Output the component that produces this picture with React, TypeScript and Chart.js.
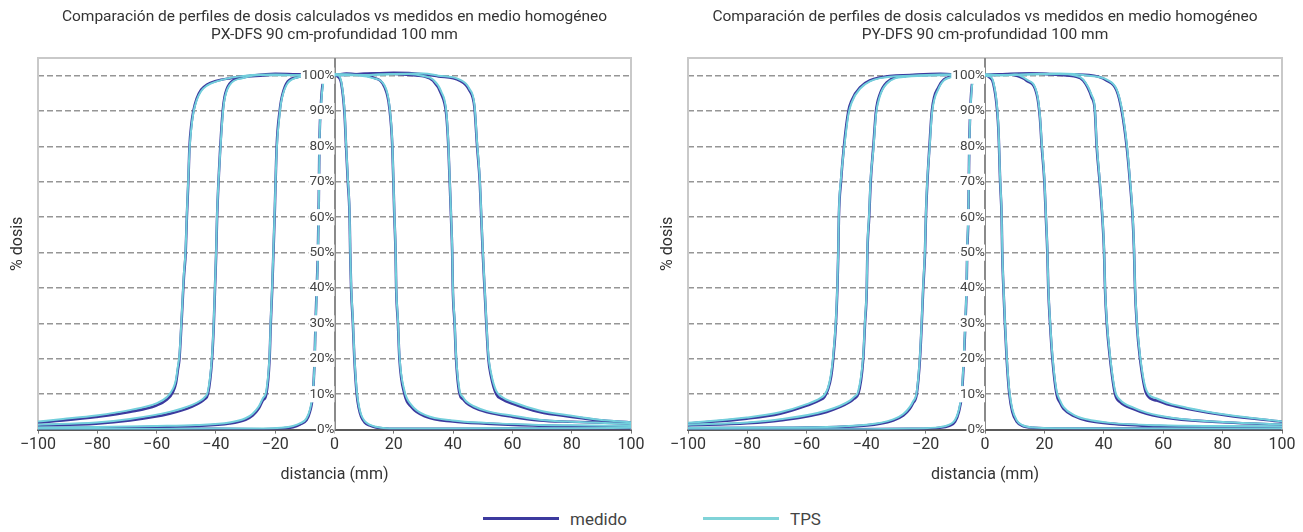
import React, { useEffect, useRef } from "react";
import { Chart, registerables } from "chart.js";

Chart.register(...registerables);

const FONT = "Roboto, 'Liberation Sans', sans-serif";

const SERIES_NAMES = ["medido", "TPS"];
const MED_COLOR = "#3c3a9e";
const TPS_COLOR = "#72cfdc";

const X_TICKS = [-100, -80, -60, -40, -20, 0, 20, 40, 60, 80, 100];
const Y_TICKS = [0, 10, 20, 30, 40, 50, 60, 70, 80, 90, 100];

const TITLE_PX = [
  "Comparación de perfiles de dosis calculados vs medidos en medio homogéneo",
  "PX-DFS 90 cm-profundidad 100 mm",
];
const TITLE_PY = [
  "Comparación de perfiles de dosis calculados vs medidos en medio homogéneo",
  "PY-DFS 90 cm-profundidad 100 mm",
];
const X_TITLE = "distancia (mm)";
const Y_TITLE = "% dosis";

// ---------- PX panel ----------
const PX_X_10 = [-100, -80, -60, -40, -24, -18, -14, -11.5, -9.5, -8.3, -7.3, -6.7, -6.4, -6.0, -5.6, -5.3, -5.1, -4.5, -3.4, -2, 0, 1, 2.3, 3.4, 3.9, 4.5, 5.1, 5.3, 5.6, 6.2, 6.7, 7.5, 8.2, 9, 10.2, 11.8, 14, 17.4, 24, 40, 60, 80, 100];
const PX_MED_10 = [0.3, 0.3, 0.2, 0.2, 0.1, 0.3, 0.7, 1.5, 2.6, 5, 10, 20, 30, 40, 50, 65, 80, 93, 99.5, 100, 100.2, 99.8, 97.7, 89, 80, 70, 60, 50, 40, 30, 20, 10, 6, 3.6, 2, 1.2, 0.6, 0.3, 0.2, 0.2, 0.3, 0.3, 0.3];
const PX_TPS_10 = [0.2, 0.2, 0.2, 0.3, 0.3, 0.5, 1.0, 1.8, 3.1, 5.6, 10.5, 19, 29, 39, 49, 63, 79, 92, 99, 99.8, 100, 100.1, 98.2, 90, 81, 71, 61, 51, 41, 31, 21, 11, 6.8, 4.2, 2.4, 1.4, 0.8, 0.4, 0.3, 0.3, 0.4, 0.4, 0.5];

const PX_X_40 = [-100, -80, -60, -46.6, -35.4, -30, -27.6, -25.5, -24.2, -23.0, -21.9, -21.5, -21.0, -20.6, -20.2, -19.5, -18.5, -18, -16.3, -12.9, -8, -4, 0, 4, 8, 12.9, 16.9, 18.5, 19.5, 20.2, 20.6, 20.8, 21.4, 21.9, 23.6, 25.9, 30.9, 39.9, 51.2, 66.9, 80, 100];
const PX_MED_40 = [0.5, 0.5, 0.8, 1.0, 1.7, 2.8, 4.0, 6.0, 8.2, 10, 20, 30, 40, 50, 60, 80, 90, 93, 97.7, 99.5, 100.2, 100.3, 100.2, 100.6, 100.3, 99.5, 96.7, 91, 80, 60, 50, 40, 30, 20, 10, 6.4, 3.6, 2.3, 1.7, 1.2, 1.0, 0.8];
const PX_TPS_40 = [0.6, 0.7, 1.0, 1.3, 2.0, 3.2, 4.5, 6.6, 8.8, 11, 21, 31, 41, 51, 61, 79, 89, 92.5, 97.2, 99.4, 100, 100.2, 100.4, 100.3, 100.1, 99.3, 97.2, 91.8, 81, 61, 51, 41, 31, 21, 11, 7.0, 4.0, 2.6, 1.9, 1.4, 1.2, 1.0];

const PX_X_80 = [-100, -80.4, -69, -55.6, -48, -45, -43.8, -42.7, -41.3, -40.7, -40.3, -39.9, -39.6, -38.5, -37.7, -37.1, -35.4, -30.9, -25, -15, -5, 5, 15, 25, 30, 33.2, 36, 37.7, 38.4, 39.3, 39.7, 39.9, 40.5, 41.0, 42.2, 43.3, 44.4, 47, 51.2, 60.1, 69.1, 80, 100];
const PX_MED_80 = [1.2, 1.7, 2.6, 4.5, 6.5, 7.8, 8.6, 10, 20, 30, 40, 50, 60, 80, 90, 93.9, 97.7, 99.5, 100, 100.4, 100.2, 100.3, 100.7, 100.2, 99.8, 98.6, 94.8, 89, 80, 60, 50, 40, 30, 20, 10, 8.6, 7.6, 6.2, 5, 3.6, 2.6, 2.2, 1.7];
const PX_TPS_80 = [1.4, 2.0, 3.0, 5.0, 7.0, 8.3, 9.2, 10.8, 21, 31, 41, 51, 61, 79, 89, 93.2, 97.3, 99.3, 100.2, 100.1, 100.4, 100.1, 100.3, 100.5, 99.9, 98.9, 95.5, 90, 81, 61, 51, 41, 31, 21, 11, 9.2, 8.0, 6.6, 5.3, 3.9, 2.8, 2.2, 1.6];

const PX_X_100 = [-100, -91.6, -80.4, -69.1, -60.1, -56.5, -54.5, -53.5, -52.8, -52.3, -51.8, -51.3, -50.8, -50.2, -49.8, -49.3, -48.9, -48.3, -47.6, -46.5, -45, -43, -40, -35, -30, -20, -10, 0, 10, 20, 30, 35, 42.2, 45.5, 47.2, 48.1, 49.0, 49.5, 50.0, 50.6, 51.2, 51.9, 52.8, 54.5, 56.5, 60.1, 69.1, 80, 89.4, 100];
const PX_MED_100 = [2, 2.6, 3.6, 5, 6.8, 8.5, 10.6, 13, 17, 20, 27, 35, 43, 50, 60, 70, 80, 86, 90, 93.5, 96, 97.5, 98.5, 99.3, 99.8, 100.5, 100.3, 100.2, 100.5, 100.8, 100.4, 99.8, 98.6, 95.8, 91, 80, 70, 60, 50, 40, 30, 20, 15, 10.1, 8.6, 7.3, 5, 3.6, 2.6, 2];
const PX_TPS_100 = [2.3, 3.0, 4.0, 5.5, 7.4, 9.2, 11.5, 14, 18, 21, 28, 36, 44, 51, 61, 71, 79, 85, 89.5, 93, 95.6, 97.2, 98.3, 99.4, 100, 100.3, 100.1, 100.4, 100.2, 100.5, 100.6, 100, 98.9, 96.3, 91.8, 81, 71, 61, 51, 41, 31, 21, 16, 11, 9.2, 7.8, 5.4, 3.9, 2.8, 2.1];

// ---------- PY panel ----------
const PY_X_10 = [-100, -46.6, -25, -15.2, -12, -10.1, -8.8, -7.8, -7.1, -6.6, -6.2, -6.0, -5.6, -5.3, -4.8, -3.9, -2, 0, 1.5, 2.8, 4.5, 5.1, 5.6, 5.8, 6.2, 6.7, 7.3, 8.2, 9.2, 10.7, 12.5, 16.3, 25, 50, 100];
const PY_MED_10 = [0.2, 0.1, 0.2, 0.5, 1.1, 2.2, 5, 10, 20, 30, 40, 50, 60, 80, 93, 99.5, 100, 100.2, 99.5, 97.7, 85, 70, 60, 50, 40, 30, 20, 10, 5, 2.2, 1.1, 0.5, 0.3, 0.3, 0.4];
const PY_TPS_10 = [0.1, 0.1, 0.3, 0.7, 1.4, 2.7, 5.6, 10.8, 21, 31, 41, 51, 61, 79, 92, 99, 99.8, 100, 99.8, 98.2, 86, 71, 61, 51, 41, 31, 21, 11, 5.8, 2.6, 1.3, 0.6, 0.4, 0.3, 0.3];

const PY_X_40 = [-100, -69, -39.8, -30.9, -27.5, -25.3, -24.2, -23, -21.9, -21.3, -20.8, -20.2, -19.9, -19.4, -18.7, -17.9, -15.7, -11.8, -6, 0, 6, 10, 14, 17.4, 18.5, 19.1, 20, 20.5, 21, 21.3, 21.9, 22.7, 24.1, 25.3, 26.4, 30, 34.2, 42.1, 58.9, 80, 100];
const PY_MED_40 = [0.4, 0.5, 1.2, 2.6, 4, 5.9, 7.5, 10, 20, 30, 40, 50, 60, 70, 80, 90, 96.7, 99.7, 100.2, 100, 100.4, 100.1, 98.6, 94.8, 88, 80, 70, 60, 50, 40, 30, 20, 10, 7.5, 5.9, 3.8, 2.6, 1.7, 1, 0.8, 0.7];
const PY_TPS_40 = [0.5, 0.6, 1.4, 2.9, 4.4, 6.4, 8.0, 10.6, 21, 31, 41, 51, 61, 71, 79, 89, 96.2, 99.5, 100, 100.3, 100.1, 100.3, 98.9, 95.3, 88.8, 81, 71, 61, 51, 41, 31, 21, 11, 8.2, 6.4, 4.1, 2.9, 1.9, 1.2, 1.0, 0.9];

const PY_X_80 = [-100, -80, -69, -53.3, -45.5, -44, -42.7, -41, -40.4, -39.8, -39.6, -39, -38.5, -37.6, -36.7, -35.4, -33.1, -26.4, -15, -5, 5, 15, 25, 30, 33.1, 35.9, 37, 37.6, 38.6, 39.5, 40.1, 40.4, 41, 42.1, 43.8, 45.5, 50, 54.4, 63.4, 81.4, 100];
const PY_MED_80 = [1.2, 1.8, 2.6, 5, 7.8, 8.8, 10, 20, 30, 40, 50, 60, 70, 80, 90, 94.8, 98.1, 100, 100.3, 100.1, 100.4, 100.6, 100.2, 99.8, 98.6, 93.9, 90, 80, 70, 60, 50, 40, 30, 20, 10, 7.8, 5.8, 4.5, 3.1, 2, 1.4];
const PY_TPS_80 = [1.4, 2.0, 2.9, 5.4, 8.2, 9.3, 10.8, 21, 31, 41, 51, 61, 71, 79, 89, 94.2, 97.7, 99.7, 100.1, 100.4, 100.2, 100.3, 100.5, 100.1, 98.9, 94.5, 90.8, 81, 71, 61, 51, 41, 31, 21, 11, 8.4, 6.2, 4.8, 3.3, 2.1, 1.5];

const PY_X_100 = [-100, -80.2, -69, -60, -55.6, -54, -52.8, -51.8, -51.1, -50.2, -49.7, -49.4, -49.2, -48.5, -47.5, -46, -44.9, -42.1, -35.4, -25, -15, -5, 5, 15, 25, 35, 41, 44.3, 46, 47.7, 48.8, 49.7, 50.2, 50.5, 51.1, 52.2, 54.4, 57.8, 62, 67.9, 81.4, 100];
const PY_MED_100 = [1.7, 3.1, 4.5, 6.8, 8.3, 9.3, 11.5, 15, 20, 30, 40, 50, 60, 70, 80, 90, 93, 96.7, 99.5, 100.2, 100.5, 100.1, 100.3, 100.6, 100.4, 100.2, 98.6, 95.8, 90.2, 80, 70, 60, 50, 40, 30, 20, 10, 8.2, 7, 5.9, 4, 2.2];
const PY_TPS_100 = [1.9, 3.4, 4.9, 7.2, 8.8, 9.9, 12, 16, 21, 31, 41, 51, 61, 71, 79, 89, 92.4, 96.3, 99.3, 100, 100.3, 100.4, 100.1, 100.4, 100.6, 100, 98.9, 96.2, 91, 81, 71, 61, 51, 41, 31, 21, 11, 8.8, 7.4, 6.2, 4.2, 2.3];

type Field = { x: number[]; med: number[]; tps: number[] };

const PX_FIELDS: Field[] = [
  { x: PX_X_10, med: PX_MED_10, tps: PX_TPS_10 },
  { x: PX_X_40, med: PX_MED_40, tps: PX_TPS_40 },
  { x: PX_X_80, med: PX_MED_80, tps: PX_TPS_80 },
  { x: PX_X_100, med: PX_MED_100, tps: PX_TPS_100 },
];
const PY_FIELDS: Field[] = [
  { x: PY_X_10, med: PY_MED_10, tps: PY_TPS_10 },
  { x: PY_X_40, med: PY_MED_40, tps: PY_TPS_40 },
  { x: PY_X_80, med: PY_MED_80, tps: PY_TPS_80 },
  { x: PY_X_100, med: PY_MED_100, tps: PY_TPS_100 },
];

function buildDatasets(fields: Field[]) {
  const ds: any[] = [];
  fields.forEach((f) => {
    ds.push({
      label: SERIES_NAMES[0],
      data: f.x.map((v, i) => ({ x: v, y: f.med[i] })),
      borderColor: MED_COLOR,
      borderWidth: 2.6,
      showLine: true,
      pointRadius: 0,
      cubicInterpolationMode: "monotone",
      order: 2,
    });
    ds.push({
      label: SERIES_NAMES[1],
      data: f.x.map((v, i) => ({ x: v, y: f.tps[i] })),
      borderColor: TPS_COLOR,
      borderWidth: 2,
      showLine: true,
      pointRadius: 0,
      cubicInterpolationMode: "monotone",
      order: 1,
    });
  });
  return ds;
}

// Light frame around the plot area plus the solid vertical axis line at x = 0.
const framePlugin = {
  id: "frame",
  beforeDatasetsDraw(chart: any) {
    const { ctx, chartArea } = chart;
    ctx.save();
    ctx.setLineDash([]);
    ctx.strokeStyle = "#c9c9c9";
    ctx.lineWidth = 2;
    ctx.beginPath();
    ctx.moveTo(chartArea.left, chartArea.bottom);
    ctx.lineTo(chartArea.left, chartArea.top);
    ctx.lineTo(chartArea.right, chartArea.top);
    ctx.lineTo(chartArea.right, chartArea.bottom);
    ctx.stroke();
    const x0 = Math.round(chart.scales.x.getPixelForValue(0));
    ctx.strokeStyle = "#8a8a8a";
    ctx.lineWidth = 2;
    ctx.beginPath();
    ctx.moveTo(x0, chartArea.top);
    ctx.lineTo(x0, chartArea.bottom);
    ctx.stroke();
    ctx.restore();
  },
};

function fmtX(v: number) {
  return v < 0 ? "\u2212" + Math.abs(v) : String(v);
}

function makeConfig(fields: Field[], title: string[], rightPad: number): any {
  return {
    type: "scatter",
    data: { datasets: buildDatasets(fields) },
    options: {
      animation: false,
      responsive: false,
      devicePixelRatio: 1,
      layout: { padding: { left: 8.4, right: rightPad, top: 0, bottom: 1 } },
      plugins: {
        legend: { display: false },
        tooltip: { enabled: false },
        title: {
          display: true,
          text: title,
          fullSize: false,
          color: "#333",
          font: { family: FONT, size: 15.5, weight: "normal", lineHeight: 1.16 },
          padding: { top: 8, bottom: 14 },
        },
      },
      scales: {
        x: {
          type: "linear",
          position: "bottom",
          min: -100,
          max: 100,
          afterBuildTicks: (s: any) => {
            s.ticks = X_TICKS.map((v) => ({ value: v }));
          },
          ticks: {
            color: "#333",
            font: { family: FONT, size: 16 },
            padding: 2,
            maxRotation: 0,
            autoSkip: false,
            callback: (v: any) => fmtX(Number(v)),
          },
          grid: {
            display: true,
            drawOnChartArea: false,
            drawTicks: true,
            tickLength: 4,
            color: "#777",
          },
          border: { display: true, color: "#5a5a5a", width: 2 },
          title: {
            display: true,
            text: X_TITLE,
            color: "#333",
            font: { family: FONT, size: 16 },
            padding: { top: 9, bottom: 4 },
          },
        },
        y: {
          type: "linear",
          position: { x: 0 },
          min: 0,
          max: 105,
          afterBuildTicks: (s: any) => {
            s.ticks = Y_TICKS.map((v) => ({ value: v }));
          },
          ticks: {
            z: 1,
            color: "#444",
            font: { family: FONT, size: 13.5 },
            padding: 0,
            showLabelBackdrop: true,
            backdropColor: "#ffffff",
            backdropPadding: { left: 1, right: 0, top: 0, bottom: 0 },
            callback: (v: any) => v + "%",
          },
          grid: {
            color: "#969696",
            lineWidth: 1.6,
            drawTicks: true,
            tickLength: 3,
            tickColor: "rgba(0,0,0,0)",
          },
          border: { display: false, dash: [6, 3] },
        },
        yt: {
          type: "linear",
          position: "left",
          min: 0,
          max: 105,
          ticks: { display: false },
          grid: { display: false, drawTicks: false },
          border: { display: false },
          title: {
            display: true,
            text: Y_TITLE,
            color: "#333",
            font: { family: FONT, size: 16 },
            padding: { top: 0, bottom: 10.4 },
          },
        },
      },
    },
    plugins: [framePlugin],
  };
}

function Panel(props: { fields: Field[]; title: string[]; left: number; width: number; rightPad: number }) {
  const ref = useRef<HTMLCanvasElement | null>(null);
  useEffect(() => {
    if (!ref.current) return;
    const chart = new Chart(ref.current, makeConfig(props.fields, props.title, props.rightPad));
    return () => chart.destroy();
  }, []);
  return (
    <canvas
      ref={ref}
      width={props.width}
      height={490}
      style={{ position: "absolute", left: props.left, top: 0, width: props.width, height: 490, display: "block" }}
    />
  );
}

export default function App() {
  const legendText: React.CSSProperties = {
    position: "absolute",
    top: 508,
    height: 22,
    lineHeight: "22px",
    fontFamily: FONT,
    fontSize: 17,
    color: "#444",
  };
  return (
    <div style={{ position: "absolute", left: 0, top: 0, width: 1303, height: 532, background: "#fff", overflow: "hidden" }}>
      <Panel fields={PX_FIELDS} title={TITLE_PX} left={0} width={670} rightPad={39} />
      <Panel fields={PY_FIELDS} title={TITLE_PY} left={650} width={653} rightPad={21} />
      <div style={{ position: "absolute", left: 483, top: 517, width: 76, height: 3, background: MED_COLOR }} />
      <div style={{ ...legendText, left: 570 }}>{SERIES_NAMES[0]}</div>
      <div style={{ position: "absolute", left: 703, top: 517, width: 76, height: 3, background: "#80d3d8" }} />
      <div style={{ ...legendText, left: 790 }}>{SERIES_NAMES[1]}</div>
    </div>
  );
}
